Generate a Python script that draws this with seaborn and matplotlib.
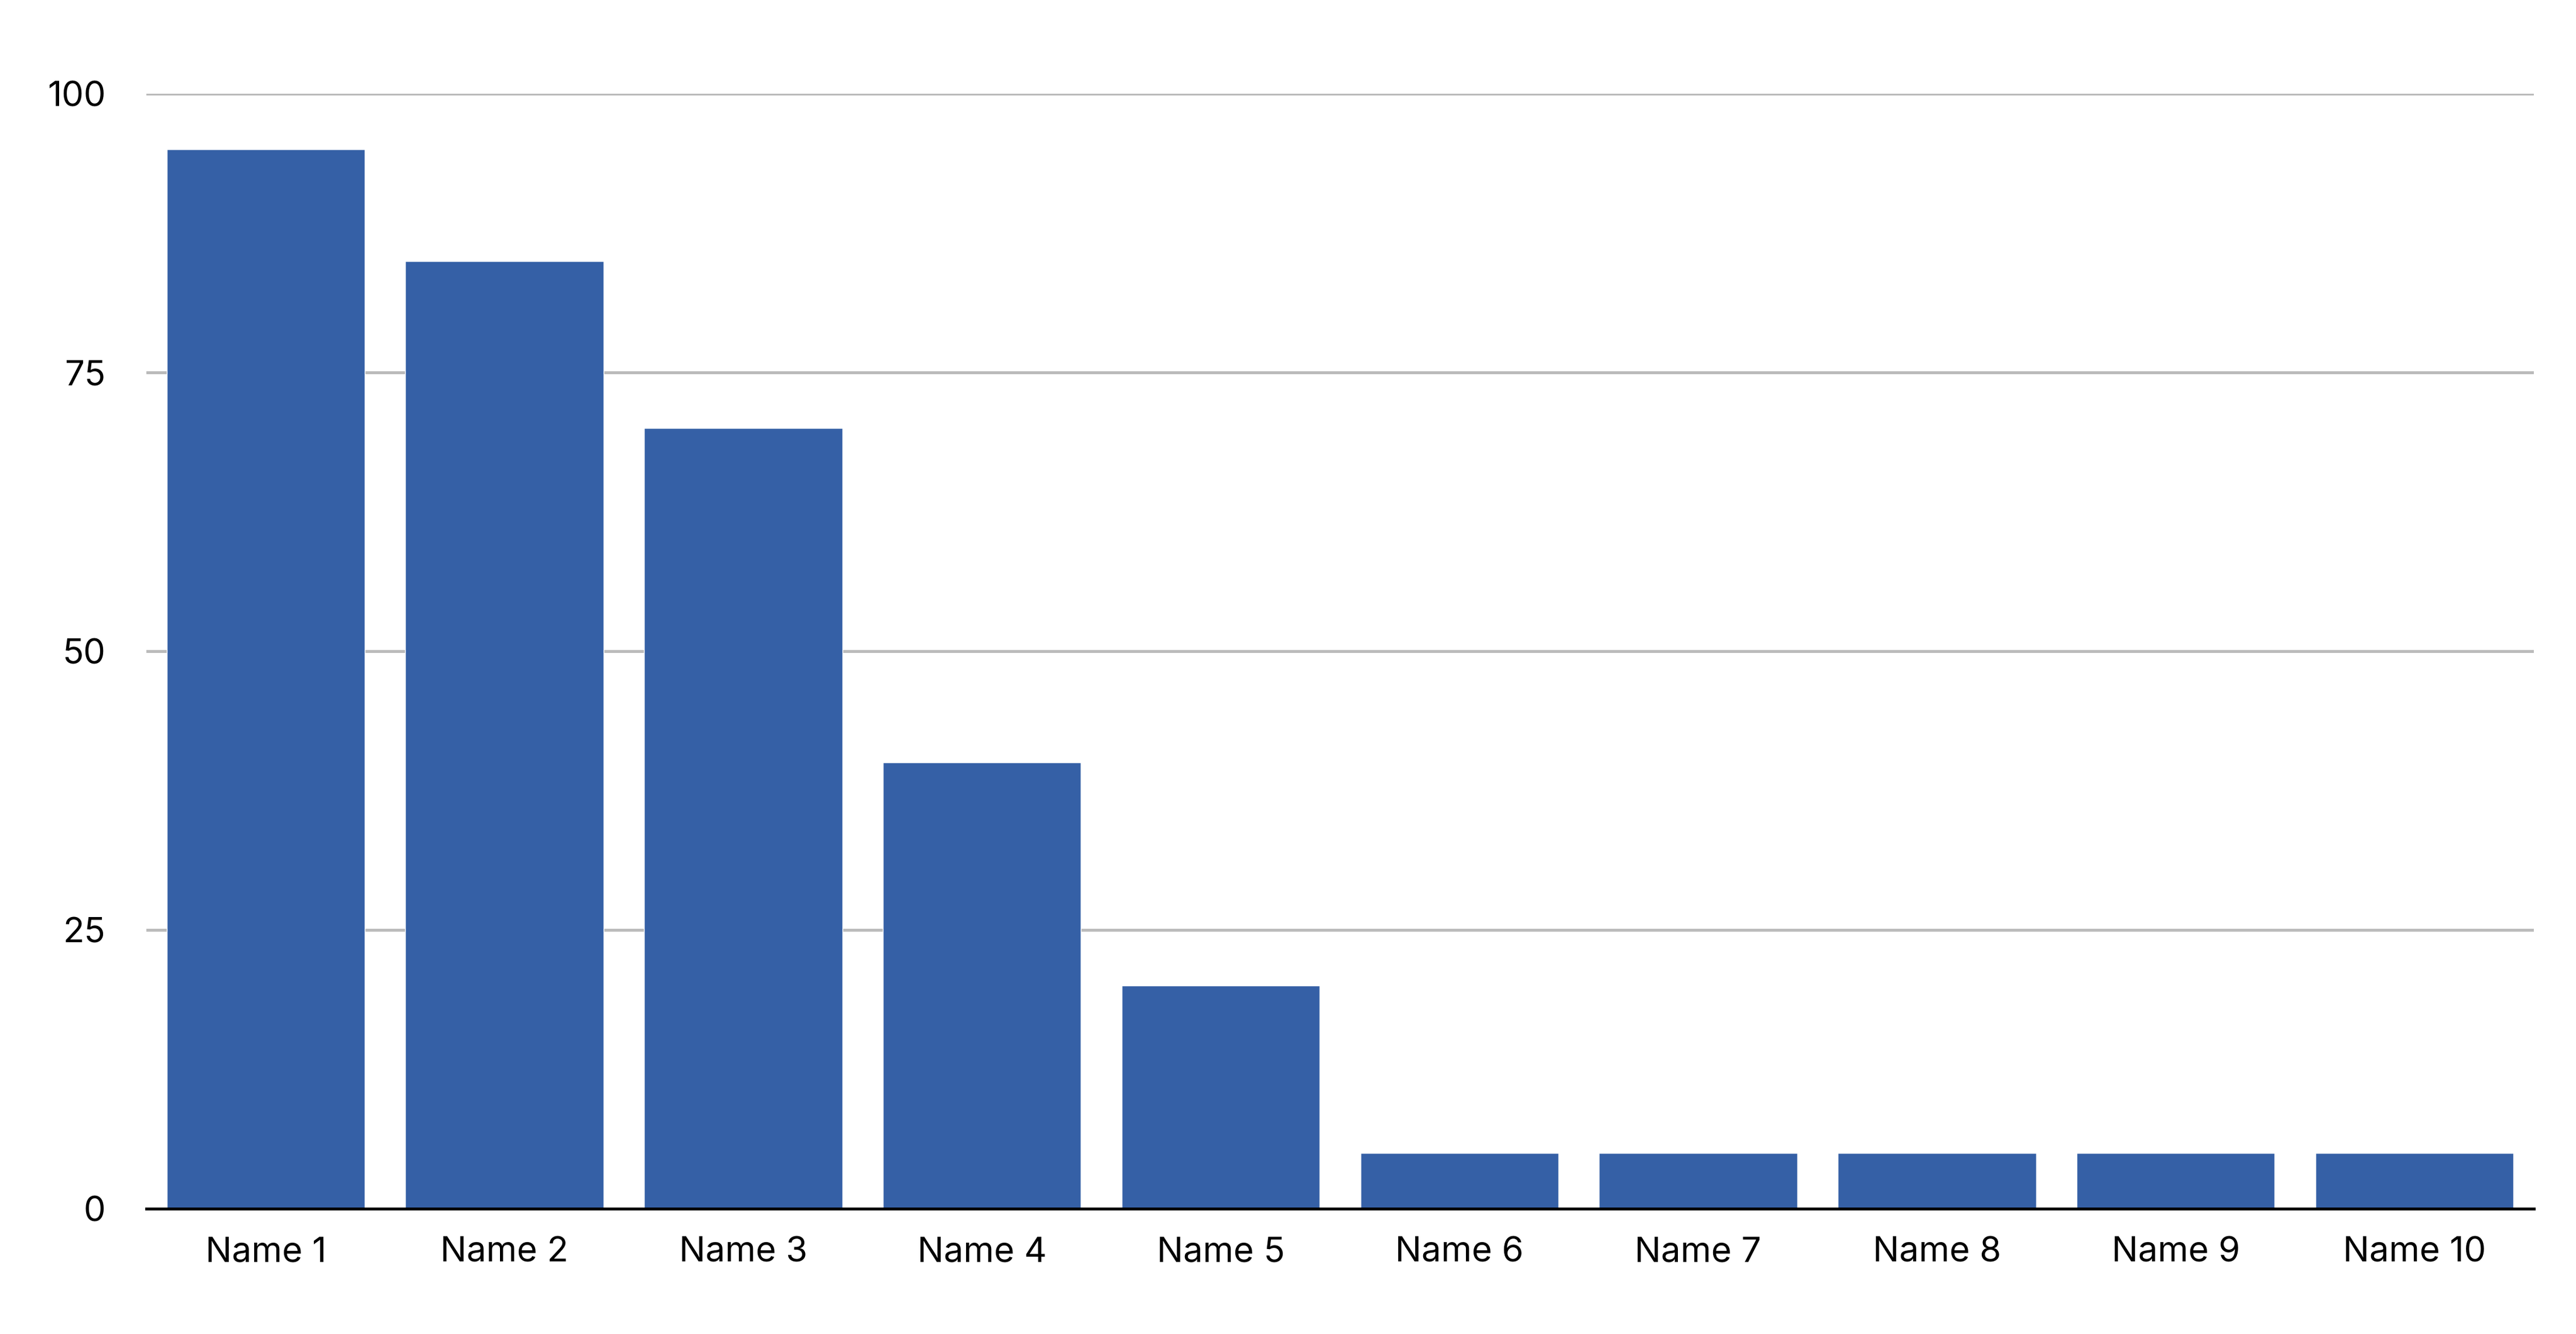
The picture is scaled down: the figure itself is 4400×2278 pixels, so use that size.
import matplotlib
matplotlib.use("Agg")
import matplotlib.pyplot as plt
import seaborn as sns
import pandas as pd

categories = ["Name 1", "Name 2", "Name 3", "Name 4", "Name 5",
              "Name 6", "Name 7", "Name 8", "Name 9", "Name 10"]
values = [95, 85, 70, 40, 20, 5, 5, 5, 5, 5]
y_ticks = [0, 25, 50, 75, 100]

sns.set_theme(style="white")
plt.rcParams['font.family'] = ['Inter', 'DejaVu Sans']

df = pd.DataFrame({"name": categories, "value": values})

fig = plt.figure(figsize=(44, 22.78), dpi=100)
ax = fig.add_axes([0.0568, 0.0939, 0.9268, 0.8359])

sns.barplot(data=df, x="name", y="value", color="#3560A6", saturation=1,
            width=0.83, ax=ax, zorder=3)

ax.set_xlim(-0.5, len(categories) - 0.5)
ax.set_ylim(0, 100)
ax.set_yticks(y_ticks)
ax.set_yticklabels([str(t) for t in y_ticks])
ax.set_xlabel("")
ax.set_ylabel("")

ax.yaxis.grid(True, color="#BBBBBB", linewidth=3.6, zorder=0)
ax.set_axisbelow(True)
for s in ["top", "right", "left"]:
    ax.spines[s].set_visible(False)
ax.spines["bottom"].set_color("black")
ax.spines["bottom"].set_linewidth(3.6)
ax.spines["bottom"].set_zorder(5)

ax.tick_params(axis="x", length=0, pad=34, labelsize=43, colors="black")
ax.tick_params(axis="y", length=0, pad=50, labelsize=43, colors="black")

fig.savefig("out.png", dpi=100, facecolor="white")
